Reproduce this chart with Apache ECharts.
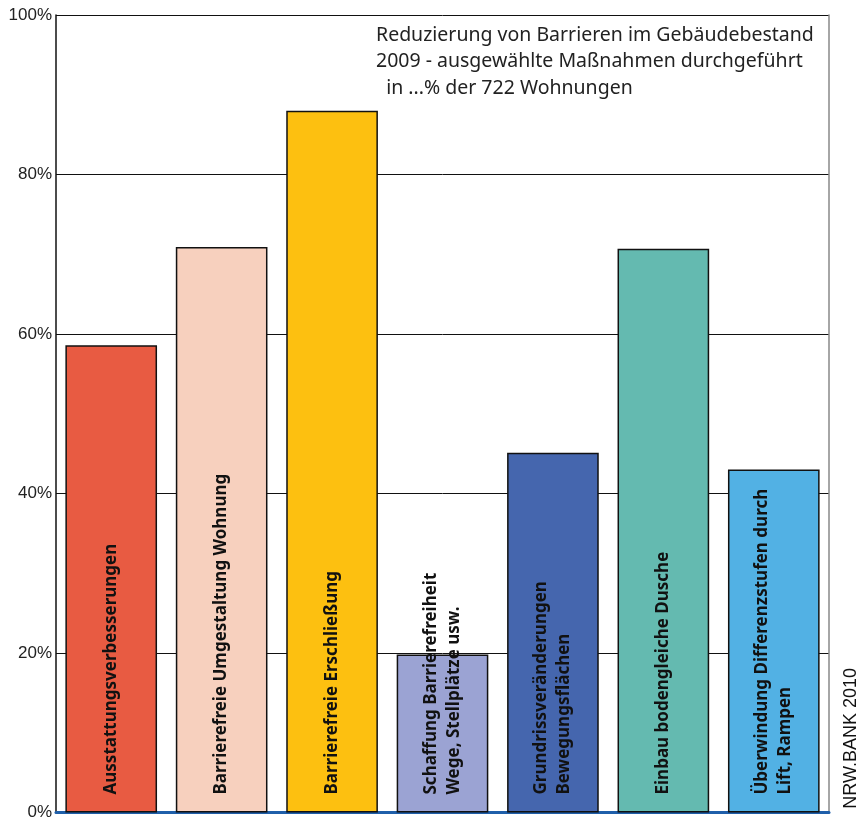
<!DOCTYPE html>
<html>
<head>
<meta charset="utf-8">
<script src="https://cdn.jsdelivr.net/npm/echarts@6/dist/echarts.min.js"></script>
<style>
html, body { margin: 0; padding: 0; background: #fff; }
#balken { width: 864px; height: 821px; }
</style>
</head>
<body>
<div id="balken"></div>
<script>
// Massnahmen (Beschriftung im Balken)
var massnahmen = [
    "Ausstattungsverbesserungen",
    "Barrierefreie Umgestaltung Wohnung",
    "Barrierefreie Erschließung",
    "Schaffung Barrierefreiheit\nWege, Stellplätze usw.",
    "Grundrissveränderungen\nBewegungsflächen",
    "Einbau bodengleiche Dusche",
    "Überwindung Differenzstufen durch\nLift, Rampen"
];
// Anteil der Wohnungen in %
var anteile = [58.6, 70.9, 88.0, 19.8, 45.1, 70.7, 43.0];
var farben = ["#E85B42", "#F7D0BE", "#FDC010", "#9BA3D3", "#4566AE", "#64BAB0", "#52B1E4"];
var titel = "Reduzierung von Barrieren im Gebäudebestand\n2009 - ausgewählte Maßnahmen durchgeführt\n  in ...% der 722 Wohnungen";
var quelle = "NRW.BANK 2010";

var dom = document.getElementById("balken");
var myChart = echarts.init(dom);

var daten = [];
for (var i = 0; i < anteile.length; i++) {
    daten.push({ value: anteile[i], itemStyle: { color: farben[i] } });
}

var option = {
    animation: false,
    title: {
        text: titel,
        left: 371,
        top: 17,
        textStyle: {
            fontFamily: "Noto Sans",
            fontSize: 19.5,
            fontWeight: "normal",
            color: "#222",
            lineHeight: 26.5
        }
    },
    graphic: [{
        type: "text",
        left: 842,
        top: 668,
        rotation: Math.PI / 2,
        style: {
            text: quelle,
            fontFamily: "Liberation Sans",
            fontSize: 18,
            fill: "#111"
        }
    }],
    grid: { left: 56, right: 35, top: 15, bottom: 8 },
    xAxis: {
        type: "category",
        data: massnahmen,
        axisLine: { lineStyle: { color: "#1F5FAA", width: 3 } },
        axisTick: { show: false },
        axisLabel: { show: false }
    },
    yAxis: [{
        type: "value",
        min: 0,
        max: 100,
        interval: 20,
        axisLine: { show: true, lineStyle: { color: "#111", width: 1.5 } },
        axisTick: { show: false },
        axisLabel: {
            formatter: "{value}%",
            fontFamily: "Liberation Sans",
            fontSize: 17,
            color: "#222",
            margin: 4
        },
        splitLine: { show: true, lineStyle: { color: "#111", width: 1 } }
    }, {
        type: "value",
        position: "right",
        min: 0,
        max: 100,
        axisLine: { show: true, lineStyle: { color: "#888", width: 1.5 } },
        axisTick: { show: false },
        axisLabel: { show: false },
        splitLine: { show: false }
    }],
    series: [{
        type: "bar",
        data: daten,
        barCategoryGap: "17%",
        itemStyle: { borderColor: "#111", borderWidth: 1.5 },
        label: {
            show: true,
            formatter: "{b}",
            position: "insideBottom",
            rotate: 90,
            align: "left",
            verticalAlign: "middle",
            distance: 18,
            fontFamily: "Noto Sans",
            fontWeight: "bold",
            fontSize: 17,
            lineHeight: 23,
            color: "#111"
        }
    }]
};

if (option && typeof option === "object") {
    myChart.setOption(option, true);
}
</script>
</body>
</html>
